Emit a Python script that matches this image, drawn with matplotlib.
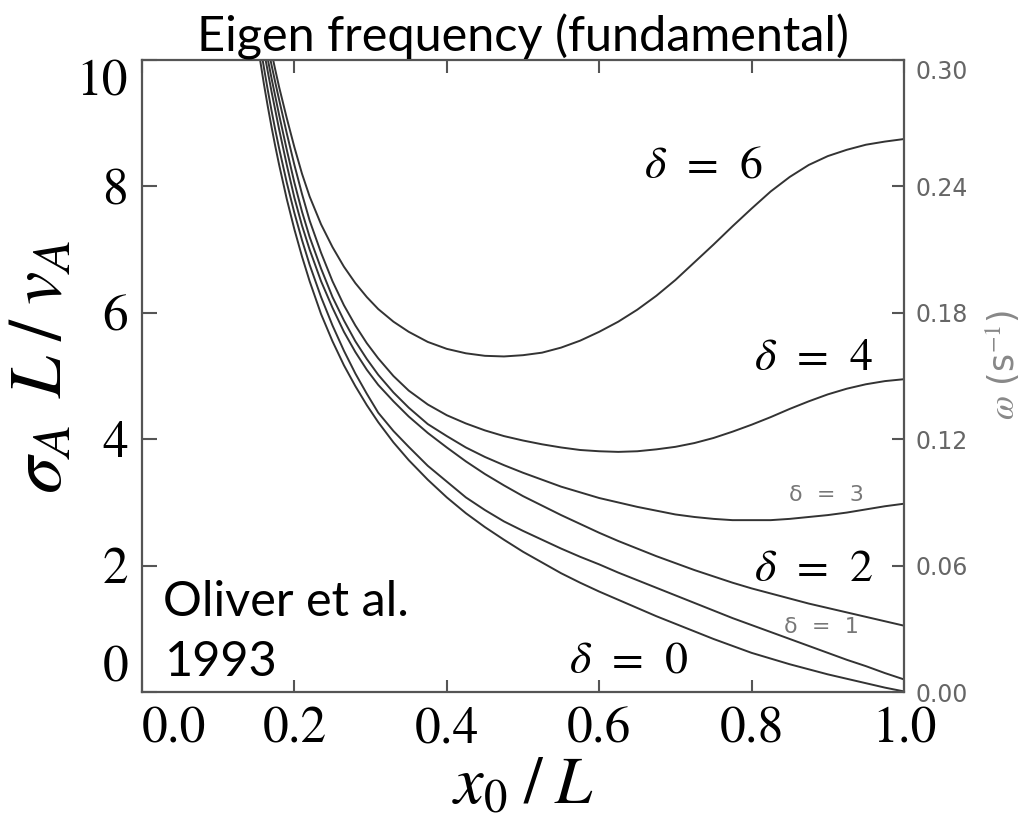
import numpy as np
import matplotlib.pyplot as plt

plt.rcParams['mathtext.fontset'] = 'stix'

# x0/L sample positions
x = [0.155, 0.16, 0.165, 0.17, 0.175, 0.18, 0.19, 0.2, 0.21, 0.22, 0.235, 0.25,
     0.265, 0.28, 0.295, 0.31, 0.33, 0.35, 0.375, 0.4, 0.425, 0.45, 0.475, 0.5,
     0.525, 0.55, 0.575, 0.6, 0.625, 0.65, 0.675, 0.7, 0.725, 0.75, 0.775, 0.8,
     0.825, 0.85, 0.875, 0.9, 0.925, 0.95, 0.975, 1.0]

# sigma_A L / v_A for each delta
d0 = [10.0, 9.62, 9.27, 8.94, 8.63, 8.34, 7.8, 7.32, 6.89, 6.5, 5.98, 5.55,
      5.17, 4.84, 4.54, 4.27, 3.95, 3.67, 3.36, 3.08, 2.83, 2.61, 2.41, 2.22,
      2.05, 1.88, 1.73, 1.59, 1.46, 1.33, 1.2, 1.08, 0.96, 0.84, 0.73, 0.62,
      0.53, 0.44, 0.36, 0.28, 0.21, 0.14, 0.07, 0.01]
d1 = [10.25, 9.88, 9.53, 9.2, 8.89, 8.6, 8.06, 7.58, 7.15, 6.76, 6.25, 5.8,
      5.4, 5.04, 4.72, 4.42, 4.13, 3.88, 3.58, 3.33, 3.08, 2.88, 2.7, 2.55,
      2.41, 2.27, 2.14, 2.02, 1.89, 1.77, 1.65, 1.53, 1.41, 1.29, 1.17, 1.06,
      0.95, 0.84, 0.73, 0.62, 0.51, 0.41, 0.3, 0.2]
d2 = [10.5, 10.15, 9.82, 9.5, 9.2, 8.9, 8.34, 7.82, 7.38, 7.0, 6.5, 6.08,
      5.7, 5.38, 5.1, 4.86, 4.6, 4.36, 4.1, 3.87, 3.65, 3.45, 3.27, 3.1,
      2.95, 2.8, 2.66, 2.52, 2.39, 2.27, 2.15, 2.04, 1.93, 1.83, 1.73, 1.64,
      1.56, 1.48, 1.4, 1.33, 1.26, 1.19, 1.12, 1.05]
d3 = [10.7, 10.35, 10.02, 9.71, 9.42, 9.13, 8.58, 8.06, 7.6, 7.2, 6.7, 6.25,
      5.88, 5.55, 5.27, 5.02, 4.74, 4.5, 4.24, 4.05, 3.87, 3.72, 3.59, 3.47,
      3.36, 3.25, 3.16, 3.07, 3.0, 2.93, 2.87, 2.81, 2.77, 2.74, 2.72, 2.72,
      2.72, 2.74, 2.77, 2.8, 2.84, 2.89, 2.94, 2.98]
d4 = [10.9, 10.55, 10.22, 9.92, 9.64, 9.37, 8.84, 8.34, 7.88, 7.46, 6.95, 6.5,
      6.12, 5.8, 5.52, 5.28, 5.0, 4.77, 4.55, 4.38, 4.25, 4.14, 4.05, 3.98,
      3.92, 3.87, 3.83, 3.81, 3.8, 3.81, 3.84, 3.88, 3.94, 4.02, 4.12, 4.23,
      4.35, 4.48, 4.6, 4.71, 4.8, 4.87, 4.92, 4.95]
d6 = [11.1, 10.75, 10.42, 10.12, 9.84, 9.57, 9.08, 8.62, 8.2, 7.84, 7.4, 7.04,
      6.73, 6.47, 6.25, 6.06, 5.86, 5.7, 5.54, 5.43, 5.36, 5.32, 5.31, 5.33,
      5.37, 5.45, 5.56, 5.7, 5.86, 6.05, 6.27, 6.52, 6.8, 7.08, 7.37, 7.65,
      7.92, 8.15, 8.34, 8.48, 8.58, 8.66, 8.71, 8.75]

xticks = [0.0, 0.2, 0.4, 0.6, 0.8, 1.0]
yticks = [0, 2, 4, 6, 8, 10]
wticks = [0.00, 0.06, 0.12, 0.18, 0.24, 0.30]

fig = plt.figure(figsize=(10.26, 8.19), dpi=100)
fig.set_facecolor('white')
ax = fig.add_axes([0.1384, 0.155, 0.7427, 0.7717])

for y in [d0, d1, d2, d3, d4, d6]:
    ax.plot(x, y, color='#333333', lw=1.4)

ax.set_xlim(0, 1)
ax.set_ylim(0, 10)
for s in ax.spines.values():
    s.set_color('#555555')
    s.set_linewidth(1.6)

ax.set_xticks(xticks)
ax.set_xticklabels(['%.1f' % v for v in xticks], fontfamily='STIXGeneral', fontsize=37)
ax.set_yticks(yticks)
ax.set_yticklabels([str(v) for v in yticks], fontfamily='STIXGeneral', fontsize=37)
ax.tick_params(axis='x', direction='in', length=9, width=1.5, color='#555555',
               top=True, pad=11)
ax.tick_params(axis='y', direction='in', length=11, width=1.5, color='#555555',
               right=False, pad=10)
ax.get_xticklabels()[0].set_ha('left')
ax.get_yticklabels()[0].set_va('bottom')
ax.get_yticklabels()[-1].set_va('top')

ax.set_xlabel(r'$x_0\;/\;L$', fontsize=48, labelpad=-2)
ax.set_ylabel(r'$\sigma_A\;\,L\;/\;v_A$', fontsize=54)
ax.yaxis.set_label_coords(-0.085, 0.515)
ax.set_title('Eigen frequency (fundamental)', fontfamily='Lato', fontsize=35, pad=3)

ax2 = ax.twinx()
ax2.set_ylim(0, 0.30)
ax2.set_yticks(wticks)
ax2.set_yticklabels(['%.2f' % v for v in wticks], color='#666666', fontsize=17)
ax2.tick_params(axis='y', direction='in', length=9, width=1.5, color='#555555', pad=8)
ax2.get_yticklabels()[-1].set_va('top')
for s in ax2.spines.values():
    s.set_visible(False)
fig.text(0.977, 0.554, r'$\omega$ (s$^{-1}$)', rotation=90, color='#888888',
         fontsize=25, ha='center', va='center', fontfamily='DejaVu Sans')

# curve labels
big = dict(fontsize=33, ha='center', va='center')
ax.text(0.736, 8.34, r'$\delta\;\,=\;\,6$', **big)
ax.text(0.881, 5.30, r'$\delta\;\,=\;\,4$', **big)
ax.text(0.881, 1.96, r'$\delta\;\,=\;\,2$', **big)
ax.text(0.638, 0.51, r'$\delta\;\,=\;\,0$', **big)
small = dict(fontsize=16, ha='center', va='center', color='#777777')
ax.text(0.898, 3.12, 'δ  =  3', **small)
ax.text(0.892, 1.03, 'δ  =  1', **small)

ax.text(0.028, 1.42, 'Oliver et al.', fontfamily='Lato', fontsize=35,
        ha='left', va='center')
ax.text(0.030, 0.47, '1993', fontfamily='Lato', fontsize=35,
        ha='left', va='center')

fig.savefig('out.png', dpi=100)
